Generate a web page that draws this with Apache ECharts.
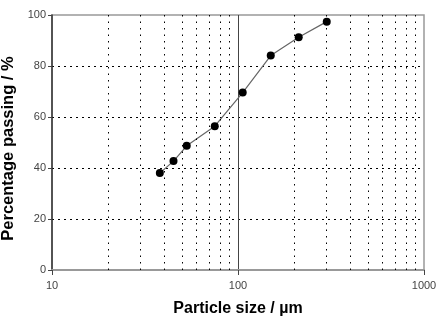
<!DOCTYPE html>
<html>
<head>
<meta charset="utf-8">
<script src="https://cdn.jsdelivr.net/npm/echarts@6/dist/echarts.min.js"></script>
<style>
  html, body { margin: 0; padding: 0; background: #fff; }
  #chart { width: 439px; height: 321px; }
</style>
</head>
<body>
<div id="chart"></div>
<script>
// sieve sizes (um) and cumulative % passing
var sizes = [38, 45, 53, 75, 106, 150, 212, 300];
var passing = [38.0, 42.7, 48.7, 56.4, 69.6, 84.1, 91.3, 97.4];
// minor vertical grid lines on the log axis
var minorLines = [20, 30, 40, 50, 60, 70, 80, 90, 200, 300, 400, 500, 600, 700, 800, 900];
var yTicks = [0, 20, 40, 60, 80, 100];

var myChart = echarts.init(document.getElementById('chart'));

var points = [];
for (var i = 0; i < sizes.length; i++) {
    points.push([sizes[i], passing[i]]);
}
var marks = [];
for (var j = 0; j < minorLines.length; j++) {
    marks.push({xAxis: minorLines[j]});
}

var option = {
    animation: false,
    backgroundColor: '#fff',
    grid: {
        left: 52, right: 15, top: 15, bottom: 51,
        outerBoundsMode: 'none',
        containLabel: false,
        show: true,
        borderColor: '#999',
        borderWidth: 1.5
    },
    xAxis: {
        type: 'log',
        logBase: 10,
        min: 10,
        max: 1000,
        name: 'Particle size / µm',
        nameLocation: 'middle',
        nameGap: 31,
        nameTextStyle: {fontFamily: 'Liberation Sans', fontWeight: 'bold', fontSize: 16, color: '#000'},
        axisLine: {show: true, lineStyle: {color: '#999', width: 2}},
        axisTick: {show: true, length: 5, lineStyle: {color: '#444'}},
        axisLabel: {
            margin: 10, fontFamily: 'Liberation Sans', fontSize: 11, color: '#444',
            formatter: function (v) { return String(Math.round(v)); }
        },
        splitLine: {show: true, showMinLine: false, showMaxLine: false, lineStyle: {color: '#444', width: 1}}
    },
    yAxis: {
        type: 'value',
        min: 0,
        max: 100,
        interval: 20,
        name: 'Percentage passing / %',
        nameLocation: 'middle',
        nameGap: 35,
        nameTextStyle: {fontFamily: 'Liberation Sans', fontWeight: 'bold', fontSize: 16.5, color: '#000', padding: [0, 12, 0, 0]},
        axisLine: {show: true, lineStyle: {color: '#333', width: 1.5}},
        axisTick: {show: true, length: 4, lineStyle: {color: '#444'}},
        axisLabel: {
            margin: 6, fontFamily: 'Liberation Sans', fontSize: 11, color: '#444',
            formatter: function (v) { return yTicks.indexOf(v) >= 0 ? String(v) : ''; }
        },
        splitLine: {show: true, showMinLine: false, showMaxLine: false, lineStyle: {color: '#000', width: 1, type: [2, 4]}}
    },
    series: [
        {
            type: 'line',
            data: points,
            symbol: 'circle',
            symbolSize: 8,
            itemStyle: {color: '#000'},
            lineStyle: {color: '#666', width: 1.2},
            markLine: {
                silent: true,
                symbol: 'none',
                label: {show: false},
                lineStyle: {color: '#000', width: 1, type: [1.5, 5]},
                data: marks
            }
        }
    ]
};
myChart.setOption(option);
</script>
</body>
</html>
